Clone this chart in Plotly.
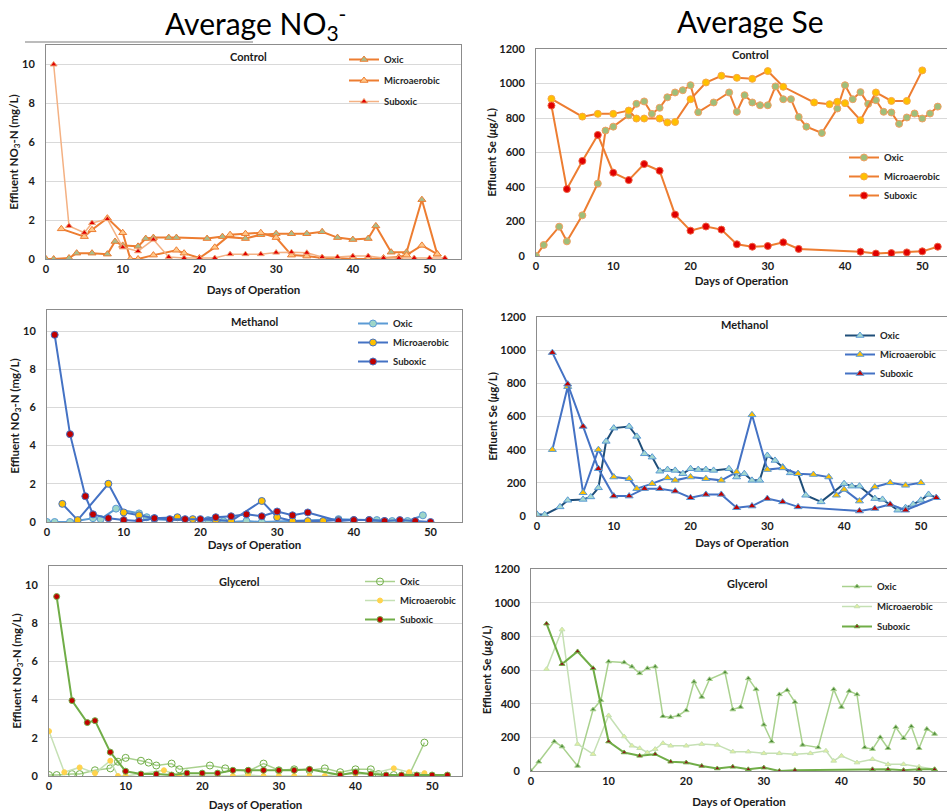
import plotly.graph_objects as go
from plotly.subplots import make_subplots

W, H = 947, 811

# ---------------- DATA ----------------
# Control – NO3 (mg/L)
ctl_no3_oxic_x = [0, 1, 3, 4, 6, 8, 9, 10, 12, 13, 14, 16, 17, 21, 23, 26, 28, 30, 32, 34, 36, 38, 40, 42, 43, 45, 47, 49, 51]
ctl_no3_oxic_y = [0, 0, 0.05, 0.3, 0.3, 0.25, 0.9, 0.7, 0.65, 1.05, 1.1, 1.1, 1.1, 1.05, 1.15, 1.05, 1.25, 1.3, 1.3, 1.3, 1.4, 1.1, 1.0, 1.05, 1.7, 0.35, 0.35, 3.05, 0.25]
ctl_no3_micro_x = [2, 5, 6, 8, 10, 11, 12, 14, 17, 18, 20, 22, 24, 26, 28, 30, 32, 34, 36, 38, 40, 42, 44, 46, 47, 49, 51]
ctl_no3_micro_y = [1.55, 1.15, 1.5, 2.1, 1.35, 0.0, 0.0, 0.2, 0.45, 0.3, 0.05, 0.6, 1.25, 1.3, 1.35, 1.1, 0.2, 0.15, 0.05, 0.05, 0.0, 0.0, 0.05, 0.1, 0.2, 0.7, 0.25]
ctl_no3_sub_x = [1, 3, 5, 6, 8, 10, 12, 14, 16, 18, 20, 22, 24, 26, 28, 30, 32, 34, 36, 38, 40, 42, 44, 46, 48, 50, 52]
ctl_no3_sub_y = [10, 1.7, 1.35, 1.85, 2.05, 0.6, 0.4, 1.0, 0.1, 0.05, 0.05, 0.05, 0.25, 0.25, 0.25, 0.33, 0.35, 0.32, 0.1, 0.1, 0.15, 0.15, 0.05, 0.05, 0.05, 0.05, 0.05]

# Control – Se (ug/L)
ctl_se_oxic_x = [0, 1, 3, 4, 6, 8, 9, 10, 12, 13, 14, 15, 16, 17, 18, 19, 20, 21, 23, 25, 26, 27, 28, 29, 30, 31, 32, 33, 34, 35, 37, 39, 40, 41, 42, 43, 44, 45, 46, 47, 48, 49, 50, 51, 52]
ctl_se_oxic_y = [0, 64, 170, 85, 236, 420, 727, 750, 816, 882, 896, 824, 859, 920, 948, 961, 990, 834, 890, 948, 836, 932, 890, 874, 874, 983, 909, 909, 806, 750, 713, 855, 990, 909, 950, 882, 903, 836, 832, 766, 803, 826, 797, 826, 866]
ctl_se_micro_x = [2, 6, 8, 10, 12, 13, 14, 16, 17, 18, 20, 22, 24, 26, 28, 30, 32, 36, 38, 39, 40, 42, 44, 46, 48, 50]
ctl_se_micro_y = [911, 808, 824, 824, 843, 797, 797, 797, 774, 777, 909, 1006, 1045, 1033, 1027, 1072, 981, 890, 880, 894, 886, 787, 948, 899, 899, 1076]
ctl_se_sub_x = [2, 4, 6, 8, 10, 12, 14, 16, 18, 20, 22, 24, 26, 28, 30, 32, 34, 42, 44, 46, 48, 50, 52]
ctl_se_sub_y = [872, 388, 551, 702, 483, 440, 533, 494, 240, 147, 171, 153, 68, 54, 58, 79, 41, 25, 14, 17, 21, 27, 54]

# Methanol – NO3 (mg/L)
meth_no3_oxic_x = [0, 1, 3, 6, 7, 9, 12, 13, 14, 16, 21, 23, 24, 26, 28, 38, 43, 45, 47, 49]
meth_no3_oxic_y = [0, 0, 0, 0.2, 0.15, 0.7, 0.45, 0.25, 0.15, 0.1, 0.1, 0.05, 0.0, 0.05, 0.0, 0.15, 0.1, 0.05, 0.05, 0.35]
meth_no3_micro_x = [2, 4, 8, 10, 12, 14, 17, 19, 22, 24, 28, 30, 32, 34, 36, 38, 40, 42, 44]
meth_no3_micro_y = [0.95, 0.1, 2.0, 0.5, 0.35, 0.2, 0.25, 0.15, 0.1, 0.05, 1.1, 0.25, 0.05, 0.05, 0.05, 0.1, 0.1, 0.1, 0.05]
meth_no3_sub_x = [1, 3, 5, 6, 8, 10, 12, 14, 16, 18, 20, 22, 24, 26, 28, 30, 32, 34, 38, 40, 42, 44, 46, 48, 50]
meth_no3_sub_y = [9.8, 4.6, 1.35, 0.4, 0.2, 0.1, 0.05, 0.2, 0.15, 0.15, 0.15, 0.25, 0.3, 0.4, 0.3, 0.55, 0.35, 0.5, 0.05, 0.1, 0.1, 0.05, 0.1, 0.05, 0.0]

# Methanol – Se (ug/L)
meth_se_oxic_x = [0, 1, 3, 4, 6, 7, 8, 9, 10, 12, 13, 14, 15, 16, 17, 18, 19, 20, 21, 22, 23, 25, 26, 27, 28, 29, 30, 31, 32, 33, 34, 35, 37, 40, 41, 42, 44, 45, 47, 48, 49, 50, 51, 52]
meth_se_oxic_y = [10, 8, 55, 95, 100, 115, 170, 450, 530, 540, 480, 375, 355, 270, 280, 275, 255, 285, 280, 280, 275, 285, 235, 255, 215, 215, 365, 335, 295, 260, 255, 125, 85, 195, 180, 180, 105, 100, 35, 50, 70, 95, 130, 110]
meth_se_micro_x = [2, 4, 6, 8, 10, 12, 13, 15, 17, 18, 20, 22, 24, 26, 28, 30, 32, 34, 36, 38, 39, 40, 42, 44, 46, 48, 50]
meth_se_micro_y = [400, 780, 140, 400, 235, 225, 165, 195, 230, 215, 235, 225, 215, 265, 610, 280, 290, 255, 250, 235, 125, 160, 90, 175, 200, 185, 200]
meth_se_sub_x = [2, 4, 6, 8, 10, 12, 14, 16, 18, 20, 22, 24, 26, 28, 30, 32, 34, 42, 44, 46, 48, 52]
meth_se_sub_y = [985, 795, 540, 285, 120, 120, 165, 165, 150, 110, 130, 130, 50, 60, 105, 85, 55, 30, 45, 70, 35, 110]

# Glycerol – NO3 (mg/L)
gly_no3_oxic_x = [0, 1, 3, 4, 6, 8, 9, 10, 12, 13, 14, 16, 17, 21, 23, 26, 28, 30, 32, 34, 36, 38, 40, 42, 43, 45, 47, 49]
gly_no3_oxic_y = [0.05, 0.05, 0.1, 0.1, 0.3, 0.4, 0.75, 0.95, 0.8, 0.7, 0.55, 0.65, 0.35, 0.55, 0.4, 0.25, 0.65, 0.3, 0.35, 0.3, 0.4, 0.2, 0.35, 0.35, 0.1, 0.05, 0.05, 1.75]
gly_no3_micro_x = [0, 2, 4, 6, 8, 9, 10, 15, 17, 20, 22, 24, 26, 28, 30, 32, 34, 36, 38, 40, 42, 45, 47, 49]
gly_no3_micro_y = [2.35, 0.2, 0.45, 0.15, 0.8, 0.0, 0.0, 0.3, 0.0, 0.0, 0.0, 0.0, 0.05, 0.0, 0.0, 0.0, 0.0, 0.0, 0.1, 0.1, 0.1, 0.4, 0.2, 0.15]
gly_no3_sub_x = [1, 3, 5, 6, 8, 10, 12, 14, 16, 18, 20, 22, 24, 26, 28, 30, 32, 34, 38, 40, 42, 44, 46, 48, 50, 52]
gly_no3_sub_y = [9.4, 3.95, 2.8, 2.9, 1.25, 0.25, 0.1, 0.1, 0.05, 0.15, 0.15, 0.15, 0.3, 0.3, 0.3, 0.3, 0.3, 0.35, 0.05, 0.2, 0.1, 0.05, 0.05, 0.05, 0.05, 0.05]

# Glycerol – Se (ug/L)
gly_se_oxic_x = [0, 1, 3, 4, 6, 8, 9, 10, 12, 13, 14, 15, 16, 17, 18, 19, 20, 21, 22, 23, 25, 26, 27, 28, 29, 30, 31, 32, 33, 34, 35, 37, 39, 40, 41, 42, 43, 44, 45, 46, 47, 48, 49, 50, 51, 52]
gly_se_oxic_y = [0, 55, 175, 145, 30, 365, 420, 650, 645, 620, 580, 610, 620, 325, 320, 330, 360, 530, 440, 545, 585, 365, 380, 550, 485, 275, 175, 455, 480, 410, 155, 140, 485, 380, 475, 455, 140, 130, 200, 135, 260, 195, 265, 135, 250, 220]
gly_se_micro_x = [2, 4, 6, 8, 10, 12, 13, 14, 15, 16, 17, 18, 20, 22, 24, 26, 28, 30, 32, 34, 36, 38, 39, 40, 42, 44, 46, 48, 50, 52]
gly_se_micro_y = [605, 840, 160, 100, 330, 205, 150, 135, 110, 130, 165, 150, 150, 160, 155, 115, 115, 105, 105, 100, 105, 120, 60, 90, 50, 70, 40, 40, 25, 10]
gly_se_sub_x = [2, 4, 6, 8, 10, 12, 14, 16, 18, 20, 22, 24, 26, 28, 30, 32, 34, 44, 46, 48, 50, 52]
gly_se_sub_y = [875, 635, 710, 610, 175, 110, 90, 100, 55, 50, 30, 15, 25, 10, 20, 0, 5, 10, 10, 5, 10, 10]

series_names = ["Oxic", "Microaerobic", "Suboxic"]
panel_titles = ["Control", "Control", "Methanol", "Methanol", "Glycerol", "Glycerol"]
main_titles = ["Average NO<sub>3</sub><sup>-</sup>", "Average Se"]
x_title = "Days of Operation"
y_title_no3 = "Effluent NO<sub>3</sub>-N (mg/L)"
y_title_se = "Effluent Se (<i>μ</i>g/L)"

FONT = "Lato, 'Open Sans', sans-serif"

def px(p):
    return p / W

def py(p):
    return 1 - p / H

fig = make_subplots(rows=3, cols=2)

ORANGE = "#ED7D31"
PEACH = "#F4B183"
BLUE = "#4472C4"
LBLUE = "#5B9BD5"
NAVY = "#1F4E79"
GREEN = "#70AD47"
LGREEN = "#A9D18E"
VLGREEN = "#C5E0B4"

panels = [
    dict(row=1, col=1, series=[
        (ctl_no3_oxic_x, ctl_no3_oxic_y, ORANGE, 2, "triangle-up", 7, "#A8BC8C", ORANGE),
        (ctl_no3_micro_x, ctl_no3_micro_y, ORANGE, 2, "triangle-up", 7, "#FFC88A", ORANGE),
        (ctl_no3_sub_x, ctl_no3_sub_y, PEACH, 1.5, "triangle-up", 6, "#E00000", "#F0A070")]),
    dict(row=1, col=2, series=[
        (ctl_se_oxic_x, ctl_se_oxic_y, ORANGE, 2, "circle", 7, "#9FBE7A", "#F2A060"),
        (ctl_se_micro_x, ctl_se_micro_y, ORANGE, 2, "circle", 7, "#FFC000", "#F8A848"),
        (ctl_se_sub_x, ctl_se_sub_y, ORANGE, 2, "circle", 7, "#E00000", "#F06040")]),
    dict(row=2, col=1, series=[
        (meth_no3_oxic_x, meth_no3_oxic_y, LBLUE, 2, "circle", 7, "#9ED6C8", LBLUE),
        (meth_no3_micro_x, meth_no3_micro_y, BLUE, 2, "circle", 7, "#FFC000", BLUE),
        (meth_no3_sub_x, meth_no3_sub_y, BLUE, 2, "circle", 7, "#C00000", BLUE)]),
    dict(row=2, col=2, series=[
        (meth_se_oxic_x, meth_se_oxic_y, NAVY, 2, "triangle-up", 7, "#A4D8CF", LBLUE),
        (meth_se_micro_x, meth_se_micro_y, BLUE, 2, "triangle-up", 7, "#FFC000", LBLUE),
        (meth_se_sub_x, meth_se_sub_y, BLUE, 2, "triangle-up", 7, "#C00000", LBLUE)]),
    dict(row=3, col=1, series=[
        (gly_no3_oxic_x, gly_no3_oxic_y, LGREEN, 1.5, "circle-open", 7, GREEN, GREEN),
        (gly_no3_micro_x, gly_no3_micro_y, VLGREEN, 1.5, "circle", 5, "#FFD34D", "#FFD34D"),
        (gly_no3_sub_x, gly_no3_sub_y, GREEN, 2, "circle", 6, "#C00000", GREEN)]),
    dict(row=3, col=2, series=[
        (gly_se_oxic_x, gly_se_oxic_y, LGREEN, 1.5, "triangle-up", 5, "#4E8A3A", LGREEN),
        (gly_se_micro_x, gly_se_micro_y, VLGREEN, 1.5, "triangle-up", 5, "#E2F0A0", VLGREEN),
        (gly_se_sub_x, gly_se_sub_y, GREEN, 2, "triangle-up", 5, "#8B1A1A", GREEN)]),
]

# pixel boxes: x0, x1, ytop, ybottom, xmax, ymax, x-title standoff
geom = [
    (46, 461, 45, 259, 54.1, 11.0, 11),
    (536, 947, 49, 256, 53.2, 1200, 5),
    (47, 462, 310, 522, 54.1, 11.1, 3),
    (537, 947, 317, 516, 53.4, 1200, 7),
    (49, 462, 566, 776, 53.9, 11.0, 9),
    (531, 947, 569, 771, 53.6, 1200, 11),
]
# legend: text x, first item y, group gap
leg = [
    (384, 59, 2),
    (884, 157, 0),
    (393, 323, 0),
    (880, 335, 0),
    (400, 581, 0),
    (877, 586, 1),
]
ptitle = [(248, 56), (750, 55), (254, 321), (744, 324), (240, 581), (747, 583)]

layout_legends = {}
for i, p in enumerate(panels):
    lname = "legend" if i == 0 else f"legend{i+1}"
    for j, (xs, ys, lc, lw, sym, sz, fill, outl) in enumerate(p["series"]):
        fig.add_trace(go.Scatter(
            x=xs, y=ys, mode="lines+markers", name=series_names[j],
            line=dict(color=lc, width=lw),
            marker=dict(symbol=sym, size=sz, color=fill, line=dict(color=outl, width=1)),
            legend=lname, legendgroup=f"g{i}_{j}",
        ), row=p["row"], col=p["col"])
    tx, ty, gap = leg[i]
    layout_legends[lname] = dict(
        x=px(tx - 40), y=py(ty - 14), xanchor="left", yanchor="top",
        bgcolor="rgba(0,0,0,0)", itemwidth=30, tracegroupgap=gap,
        font=dict(family=FONT, size=9.5, color="#262626", weight="bold"),
    )

fig.update_layout(**layout_legends)

tick_font = dict(family=FONT, size=11, color="#1a1a1a", weight="bold")
title_font = dict(family=FONT, size=11.5, color="#1a1a1a", weight="bold")

for i, (x0, x1, yt, yb, xmax, ymax, xst) in enumerate(geom):
    k = "" if i == 0 else str(i + 1)
    right = (i % 2 == 1)
    fig.layout["xaxis" + k].update(
        domain=[px(x0), px(x1)], range=[0, xmax], dtick=10, tick0=0, automargin=False,
        showgrid=False, zeroline=False, showline=True, linecolor="#8C8C8C", linewidth=1,
        mirror=True, ticks="", tickfont=tick_font,
        title=dict(text=x_title, font=title_font, standoff=xst),
    )
    fig.layout["yaxis" + k].update(
        domain=[py(yb), py(yt)], range=[0, ymax], dtick=(200 if right else 2), tick0=0,
        automargin=False,
        showgrid=True, gridcolor="#D9D9D9", gridwidth=1, zeroline=False,
        showline=True, linecolor="#8C8C8C", linewidth=1, mirror=(not right),
        ticks="", ticklabelstandoff=8, tickfont=tick_font,
        title=dict(text=(y_title_se if right else y_title_no3), font=title_font,
                   standoff=(0 if right else 1)),
    )

annotations = []
for i, (cx, cy) in enumerate(ptitle):
    annotations.append(dict(text=panel_titles[i], x=px(cx), y=py(cy), xref="paper", yref="paper",
                            showarrow=False, xanchor="center", yanchor="middle",
                            font=dict(family=FONT, size=11, color="#1a1a1a", weight="bold")))
annotations.append(dict(text=main_titles[0], x=px(255), y=py(23), xref="paper", yref="paper",
                        showarrow=False, xanchor="center", yanchor="middle",
                        font=dict(family=FONT, size=30, color="#000000")))
annotations.append(dict(text=main_titles[1], x=px(750), y=py(21), xref="paper", yref="paper",
                        showarrow=False, xanchor="center", yanchor="middle",
                        font=dict(family=FONT, size=30, color="#000000")))

fig.update_layout(
    width=W, height=H, margin=dict(l=0, r=0, t=0, b=0, autoexpand=False),
    paper_bgcolor="white", plot_bgcolor="white",
    annotations=annotations, showlegend=True,
    shapes=[dict(type="line", xref="paper", yref="paper", x0=px(25), x1=px(253),
                 y0=py(42), y1=py(42), line=dict(color="#A6A6A6", width=1.5))],
)

fig.write_html("out.html", config={"displayModeBar": False},
               post_script="document.body.style.margin='0px';")
